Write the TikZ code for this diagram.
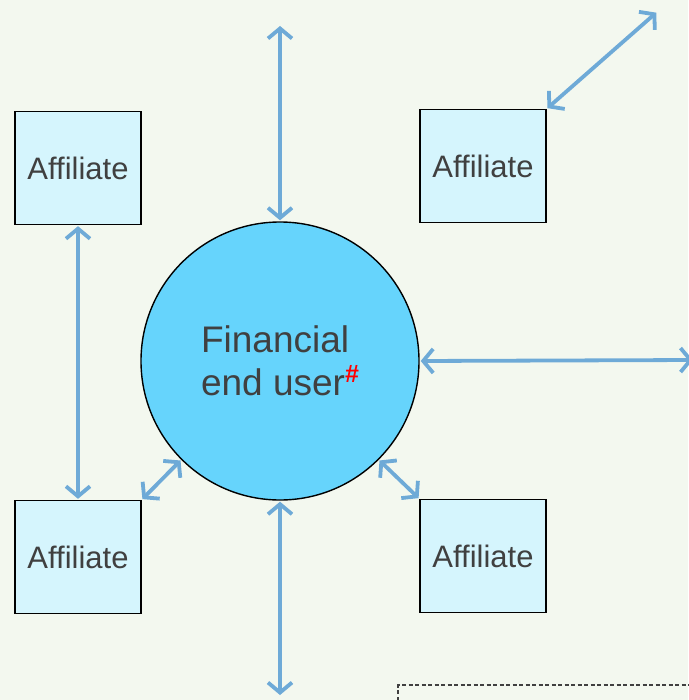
\documentclass[tikz,border=0pt]{standalone}
\usepackage{fontspec}
\setmainfont{Liberation Sans}
\usetikzlibrary{arrows.meta}
\definecolor{bgcol}{HTML}{F3F8EF}
\definecolor{boxcol}{HTML}{D5F5FD}
\definecolor{usercol}{HTML}{66D4FC}
\definecolor{linkcol}{HTML}{6EAAD7}
\definecolor{txtcol}{HTML}{404040}
\tikzset{
    affil/.style={draw=black, line width=1.4pt, fill=boxcol, minimum width=126pt, minimum height=113pt, text=txtcol, font=\fontsize{31}{36}\selectfont},
    link/.style={draw=linkcol, line width=3.8pt, {Straight Barb[length=10pt,width=24pt]}-{Straight Barb[length=10pt,width=24pt]}, shorten <=1pt, shorten >=1pt}
}
\begin{document}
\begin{tikzpicture}[x=1pt,y=1pt]
    \useasboundingbox (0,0) rectangle (688,-700);
    \fill[bgcol] (0,0) rectangle (688,-700);
    %end user and affiliates
    \node[circle, draw=black, line width=1.4pt, fill=usercol, minimum size=278pt, inner sep=0pt, text=txtcol, align=left, font=\fontsize{37}{43}\selectfont] (user) at (280,-361) {Financial\\end user\textcolor{red}{\raisebox{13pt}{\fontsize{25}{25}\selectfont\bfseries\#}}};
    \node[affil] (tl) at (78,-168) {Affiliate};
    \node[affil] (tr) at (483,-166) {Affiliate};
    \node[affil] (bl) at (78,-557) {Affiliate};
    \node[affil] (br) at (483,-556) {Affiliate};
    \coordinate (up) at (280,-25);
    \coordinate (down) at (280,-696);
    \coordinate (right) at (694,-360);
    \coordinate (corner) at (657,-12);
    %links
    \draw[link] (user.north) -- (up);
    \draw[link] (user.south) -- (down);
    \draw[link] (user.east) -- (right);
    \draw[link] (tr.north east) -- (corner);
    \draw[link] (tl.south) -- (bl.north);
    \draw[link] (bl.north east) -- (user.225);
    \draw[link] (br.north west) -- (user.-45);
    %notes box
    \draw[txtcol, line width=1.6pt, dash pattern=on 4pt off 2.5pt] (398,-720) -- (398,-685) -- (700,-685);
\end{tikzpicture}
\end{document}
